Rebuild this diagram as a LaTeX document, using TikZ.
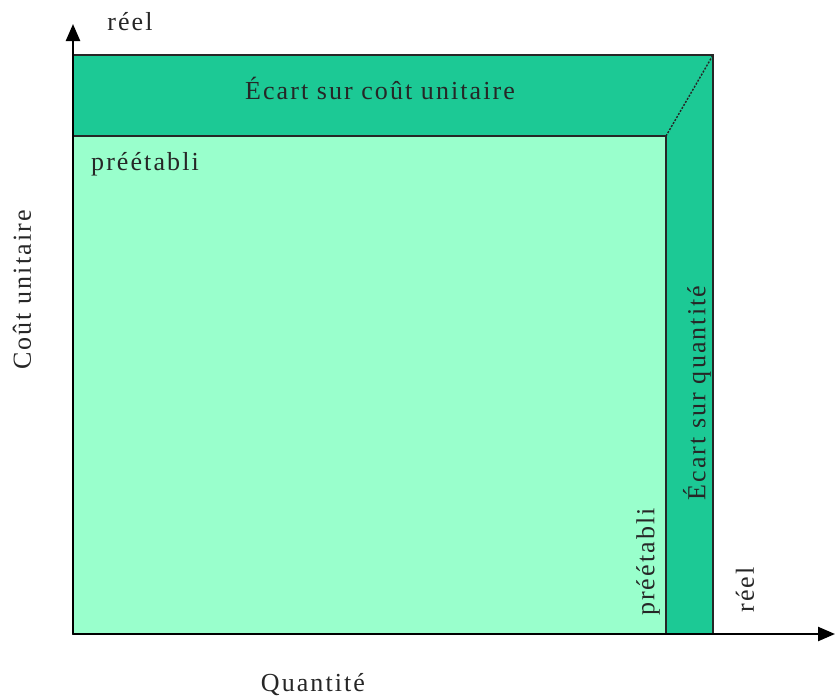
\documentclass[tikz,border=0pt]{standalone}
\usepackage{fontspec}
\setmainfont[LetterSpace=8]{Liberation Serif}
\usetikzlibrary{arrows.meta}
\definecolor{darkband}{HTML}{1CC995}
\definecolor{lightarea}{HTML}{99FFCC}
\begin{document}
\begin{tikzpicture}[x=1pt,y=-1pt,
  lbl/.style={font=\fontsize{26}{29}\selectfont, inner sep=0pt, text=black!85},
  axis/.style={line width=2.4pt, -{Triangle[length=17pt,width=14pt]}},
  edge/.style={draw=black!85, line width=1.6pt}]
  \useasboundingbox (0,0) rectangle (835,699);
  % corner points of the areas
  \coordinate (O) at (73,634);
  \coordinate (Ytip) at (73,24);
  \coordinate (Xtip) at (835,634);
  \coordinate (outerNE) at (713,55);
  \coordinate (innerNE) at (666,136);
  % full real area (dark) and budgeted area (light)
  \filldraw[edge, fill=darkband] (O) rectangle (outerNE);
  \filldraw[edge, fill=lightarea] (O) rectangle (innerNE);
  \draw[edge, line width=1.4pt, dash pattern=on 2pt off 1.5pt] (innerNE) -- (outerNE);
  % axes
  \draw[axis] (O) -- (Ytip);
  \draw[axis] (O) -- (Xtip);
  % labels
  \node[lbl] (yreel) at (130,22) {réel};
  \node[lbl] (topband) at (380,88) {Écart sur coût unitaire};
  \node[lbl, anchor=west] (ypre) at (91,164) {préétabli};
  \node[lbl, rotate=90] (ylabel) at (22,290) {Coût unitaire};
  \node[lbl, rotate=90] (sideband) at (697,393) {Écart sur quantité};
  \node[lbl, rotate=90] (xpre) at (648,562) {préétabli};
  \node[lbl, rotate=90] (xreel) at (745,590) {réel};
  \node[lbl] (xlabel) at (313,685) {Quantité};
\end{tikzpicture}
\end{document}
